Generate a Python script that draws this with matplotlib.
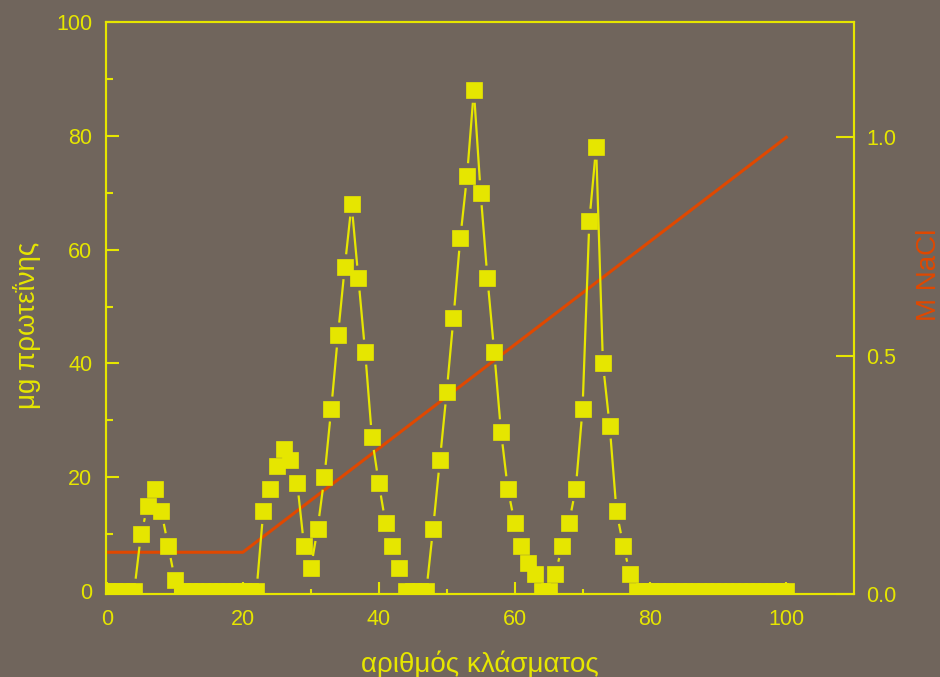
import numpy as np
from matplotlib import pyplot as plt
from matplotlib.collections import LineCollection

BG = '#70655c'
YELLOW = '#e6e600'
RED = '#e04800'

plt.rcParams['font.family'] = ['Liberation Sans', 'DejaVu Sans']
plt.rcParams['font.size'] = 15

# -- DATA --:
fraction = np.arange(0, 101)  # fraction number
protein = [  # ug protein per fraction
    0, 0, 0, 0, 0, 10, 15, 18, 14, 8,
    2, 0, 0, 0, 0, 0, 0, 0, 0, 0,
    0, 0, 0, 14, 18, 22, 25, 23, 19, 8,
    4, 11, 20, 32, 45, 57, 68, 55, 42, 27,
    19, 12, 8, 4, 0, 0, 0, 0, 11, 23,
    35, 48, 62, 73, 88, 70, 55, 42, 28, 18,
    12, 8, 5, 3, 0, 0, 3, 8, 12, 18,
    32, 65, 78, 40, 29, 14, 8, 3, 0, 0,
    0, 0, 0, 0, 0, 0, 0, 0, 0, 0,
    0, 0, 0, 0, 0, 0, 0, 0, 0, 0,
    0,
]
grad_fraction = [0, 20, 100]
grad_nacl = [0.05, 0.05, 1.0]  # M NaCl

x_ticks = [0, 20, 40, 60, 80, 100]
y_ticks = [0, 20, 40, 60, 80, 100]
nacl_ticks = [0.5, 1.0]

MS = 12.2  # marker size (pt)
TICK_FS = 15.5
LABEL_FS = 20


def gapped_segments(ax, x, y, half, gap):
    """Connecting segments that stop short of each square marker."""
    pts = ax.transData.transform(np.column_stack([x, y]))
    segs = []
    for p, q in zip(pts[:-1], pts[1:]):
        d = q - p
        length = np.hypot(*d)
        if length == 0:
            continue
        u = d / length
        cut = half / max(abs(u[0]), abs(u[1])) + gap
        if length <= 2 * cut:
            continue
        segs.append(ax.transData.inverted().transform([p + u * cut, q - u * cut]))
    return segs


fig = plt.figure(figsize=(9.4, 6.77), dpi=100, facecolor=BG)
ax = fig.add_axes([0.1124, 0.1226, 0.7964, 0.8449], facecolor=BG)
ax.set_xlim(-0.2, 110)
ax.set_ylim(-0.5, 100)

ax2 = ax.twinx()
ax2.set_ylim(-0.0456, 1.264)

# gradient
ax2.plot(grad_fraction, grad_nacl, color=RED, lw=2.2, zorder=3)

# protein elution profile
half_px = MS / 72 * fig.dpi / 2
segs = gapped_segments(ax, fraction, protein, half_px, 4)
ax.add_collection(LineCollection(segs, colors=YELLOW, linewidths=1.6, zorder=2))
ax.plot(fraction, protein, ls='none', marker='s', ms=MS, color=YELLOW,
        mec=YELLOW, mew=0.5, zorder=2)
ax.set_zorder(ax2.get_zorder() + 1)
ax.patch.set_visible(False)

for a in (ax, ax2):
    for s in a.spines.values():
        s.set_color(YELLOW)
        s.set_linewidth(1.5)

ax.set_xticks(x_ticks)
ax.set_xticks([10, 30, 50, 70, 90], minor=True)
ax.set_yticks(y_ticks)
ax.set_yticks([10, 30, 50, 70, 90], minor=True)
ax.tick_params(axis='both', which='both', direction='in', color=YELLOW,
               labelcolor=YELLOW, width=1.5, labelsize=TICK_FS)
ax.tick_params(axis='x', which='major', length=8.6, pad=11)
ax.tick_params(axis='x', which='minor', length=3.6)
ax.tick_params(axis='y', which='major', length=9, pad=9.5)
ax.tick_params(axis='y', which='minor', length=4.8)

ax2.set_yticks([ax2.get_ylim()[0]] + nacl_ticks)
ax2.set_yticklabels(['0.0', '0.5', '1.0'])
ax2.tick_params(axis='y', direction='in', color=YELLOW, labelcolor=YELLOW,
                width=1.5, length=13, pad=8.6, labelsize=TICK_FS)

ax.set_xlabel('αριθμός κλάσματος', color=YELLOW, fontsize=LABEL_FS)
ax.xaxis.set_label_coords(0.5, -0.098)
ax.set_ylabel('μg πρωτεΐνης', color=YELLOW, fontsize=LABEL_FS)
ax.yaxis.set_label_coords(-0.086, 0.47)
ax2.set_ylabel('M NaCl', color=RED, fontsize=LABEL_FS)
ax2.yaxis.set_label_coords(1.082, 0.558)

fig.savefig('out.png', dpi=100, facecolor=BG)
